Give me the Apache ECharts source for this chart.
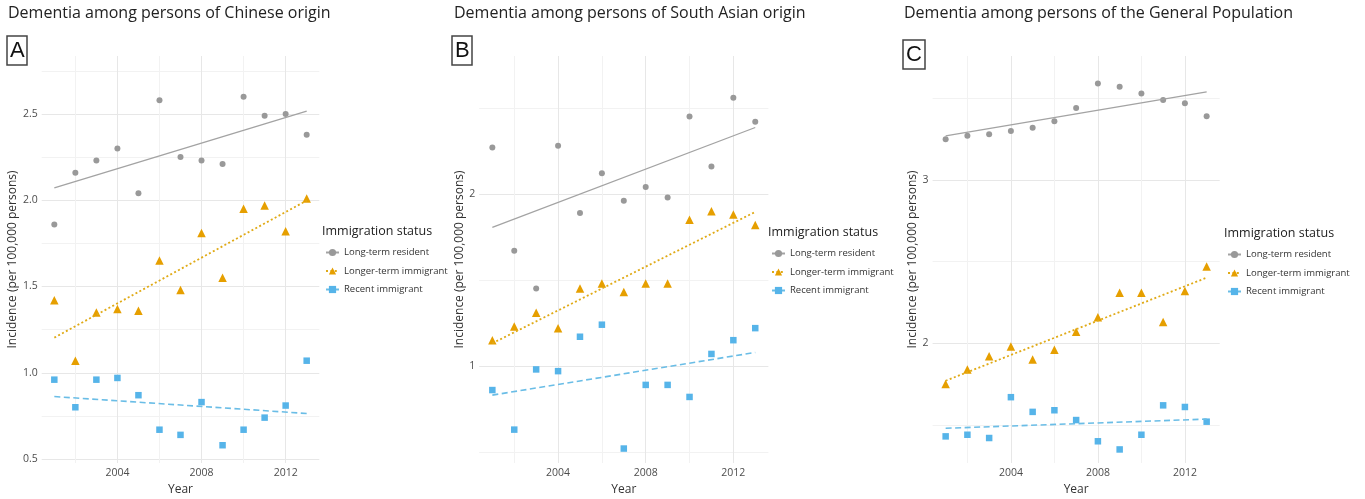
<!DOCTYPE html>
<html>
<head>
<meta charset="utf-8">
<title>Dementia incidence by immigration status</title>
<script src="https://cdn.jsdelivr.net/npm/echarts@6/dist/echarts.min.js"></script>
<style>
  html, body { margin: 0; padding: 0; background: #fff; }
  #chart { width: 1365px; height: 499px; }
</style>
</head>
<body>
<div id="chart"></div>
<script>
const years = [2001, 2002, 2003, 2004, 2005, 2006, 2007, 2008, 2009, 2010, 2011, 2012, 2013];
const seriesNames = ["Long-term resident", "Longer-term immigrant", "Recent immigrant"];
const legendTitle = "Immigration status";
const xAxisTitle = "Year";
const yAxisTitle = "Incidence (per 100,000 persons)";

// A: Chinese origin
const chineseResident = [1.86, 2.16, 2.23, 2.30, 2.04, 2.58, 2.25, 2.23, 2.21, 2.60, 2.49, 2.50, 2.38];
const chineseLonger = [1.42, 1.07, 1.35, 1.37, 1.36, 1.65, 1.48, 1.81, 1.55, 1.95, 1.97, 1.82, 2.01];
const chineseRecent = [0.96, 0.80, 0.96, 0.97, 0.87, 0.67, 0.64, 0.83, 0.58, 0.67, 0.74, 0.81, 1.07];

// B: South Asian origin
const southAsianResident = [2.27, 1.67, 1.45, 2.28, 1.89, 2.12, 1.96, 2.04, 1.98, 2.45, 2.16, 2.56, 2.42];
const southAsianLonger = [1.15, 1.23, 1.31, 1.22, 1.45, 1.48, 1.43, 1.48, 1.48, 1.85, 1.90, 1.88, 1.82];
const southAsianRecent = [0.86, 0.63, 0.98, 0.97, 1.17, 1.24, 0.52, 0.89, 0.89, 0.82, 1.07, 1.15, 1.22];

// C: general population
const generalResident = [3.25, 3.27, 3.28, 3.30, 3.32, 3.36, 3.44, 3.59, 3.57, 3.53, 3.49, 3.47, 3.39];
const generalLonger = [1.75, 1.84, 1.92, 1.98, 1.90, 1.96, 2.07, 2.16, 2.31, 2.31, 2.13, 2.32, 2.47];
const generalRecent = [1.43, 1.44, 1.42, 1.67, 1.58, 1.59, 1.53, 1.40, 1.35, 1.44, 1.62, 1.61, 1.52];

const panelTitles = [
  "Dementia among persons of Chinese origin",
  "Dementia among persons of South Asian origin",
  "Dementia among persons of the General Population",
];
const panelLetters = ["A", "B", "C"];

const FONT = "'Open Sans', 'Liberation Sans', sans-serif";

const groupStyles = [
  {color: "#999999", lineColor: "#a3a3a3", symbol: "circle", size: 6, dash: "solid", width: 1.3},
  {color: "#E69F00", lineColor: "#E0AA16", symbol: "triangle", size: 8.5, dash: [2, 2.4], width: 1.8},
  {color: "#56B4E9", lineColor: "#6ABDE6", symbol: "rect", size: 6.5, dash: [6, 3.5], width: 1.6},
];

// layout of each panel
const panels = [
  {data: [chineseResident, chineseLonger, chineseRecent], left: 41.7, width: 277.6,
    yMin: 0.477, yMax: 2.836, yStep: 0.5, digits: 1, nameGap: 23,
    titleLeft: 8, letterLeft: 7, letterTop: 36, legendLeft: 322, legendTop: 0},
  {data: [southAsianResident, southAsianLonger, southAsianRecent], left: 479.2, width: 289.2,
    yMin: 0.436, yMax: 2.802, yStep: 1, digits: 0, nameGap: 13,
    titleLeft: 454, letterLeft: 452, letterTop: 36, legendLeft: 768, legendTop: 1},
  {data: [generalResident, generalLonger, generalRecent], left: 932.6, width: 287.1,
    yMin: 1.267, yMax: 3.759, yStep: 1, digits: 0, nameGap: 13,
    titleLeft: 904, letterLeft: 903, letterTop: 40, legendLeft: 1224, legendTop: 2},
];

function fitLine(xs, ys) {
  const n = xs.length;
  const mx = xs.reduce((a, b) => a + b, 0) / n;
  const my = ys.reduce((a, b) => a + b, 0) / n;
  let sxy = 0;
  let sxx = 0;
  for (let i = 0; i < n; i++) {
    sxy += (xs[i] - mx) * (ys[i] - my);
    sxx += (xs[i] - mx) * (xs[i] - mx);
  }
  const slope = sxy / sxx;
  const x0 = xs[0];
  const x1 = xs[n - 1];
  return [[x0, my + slope * (x0 - mx)], [x1, my + slope * (x1 - mx)]];
}

function onStep(v, step) {
  return Math.abs(v / step - Math.round(v / step)) < 1e-6;
}

const grids = [];
const xAxes = [];
const yAxes = [];
const series = [];
const legends = [];
const titles = [];

panels.forEach((p, i) => {
  grids.push({left: p.left, top: 56, width: p.width, height: 407, outerBoundsMode: "none"});

  xAxes.push({
    type: "value", gridIndex: i, min: 2000.4, max: 2013.6, minInterval: 4, maxInterval: 4,
    axisLine: {show: false}, axisTick: {show: false},
    axisLabel: {
      formatter: (v) => onStep(v, 4) ? String(v) : "",
      color: "#4d4d4d", fontSize: 10.5, fontFamily: FONT, margin: 5,
    },
    splitLine: {show: true, showMinLine: false, showMaxLine: false, lineStyle: {color: "#e7e7e7", width: 1}},
    minorTick: {show: false, splitNumber: 2},
    minorSplitLine: {show: true, lineStyle: {color: "#f2f2f2", width: 1}},
    name: xAxisTitle, nameLocation: "middle", nameGap: 19,
    nameTextStyle: {fontSize: 12, color: "#333", fontFamily: FONT},
  });

  yAxes.push({
    type: "value", gridIndex: i, min: p.yMin, max: p.yMax, minInterval: p.yStep, maxInterval: p.yStep,
    axisLine: {show: false}, axisTick: {show: false},
    axisLabel: {
      formatter: (v) => onStep(v, p.yStep) ? v.toFixed(p.digits) : "",
      color: "#4d4d4d", fontSize: 10.5, fontFamily: FONT, margin: 4,
    },
    splitLine: {show: true, showMinLine: false, showMaxLine: false, lineStyle: {color: "#e7e7e7", width: 1}},
    minorTick: {show: false, splitNumber: 2},
    minorSplitLine: {show: true, lineStyle: {color: "#f2f2f2", width: 1}},
    name: yAxisTitle, nameLocation: "middle", nameGap: p.nameGap,
    nameTextStyle: {fontSize: 12, color: "#333", fontFamily: FONT},
  });

  // trend lines first so the legend takes their line + symbol icon
  p.data.forEach((vals, g) => {
    const st = groupStyles[g];
    series.push({
      type: "line", name: seriesNames[g], xAxisIndex: i, yAxisIndex: i,
      data: fitLine(years, vals),
      symbol: st.symbol, showSymbol: false, silent: true, z: 3,
      lineStyle: {color: st.lineColor, width: st.width, type: st.dash},
      itemStyle: {color: st.color},
    });
  });
  p.data.forEach((vals, g) => {
    const st = groupStyles[g];
    series.push({
      type: "scatter", name: seriesNames[g], xAxisIndex: i, yAxisIndex: i,
      data: years.map((y, k) => [y, vals[k]]),
      symbol: st.symbol, symbolSize: st.size, z: 2,
      itemStyle: {color: st.color, opacity: 1},
    });
  });

  legends.push({
    orient: "vertical", left: p.legendLeft + 3, top: 247.5 + p.legendTop,
    itemWidth: 13, itemHeight: 9, itemGap: 8.5, padding: 0, selectedMode: false,
    data: seriesNames,
    textStyle: {fontSize: 9.5, color: "#333", fontFamily: FONT},
  });

  titles.push({
    text: panelTitles[i], left: p.titleLeft, top: 5, padding: 0,
    textStyle: {fontSize: 16, fontWeight: "normal", color: "#222", fontFamily: FONT},
  });
  titles.push({
    text: panelLetters[i], left: p.letterLeft, top: p.letterTop, padding: [3, 3, 2, 3],
    borderWidth: 1.5, borderColor: "#444",
    textStyle: {fontSize: 22, fontWeight: "normal", color: "#111", fontFamily: "'Liberation Sans', sans-serif", lineHeight: 24},
  });
  titles.push({
    text: legendTitle, left: p.legendLeft, top: 225 + p.legendTop, padding: 0,
    textStyle: {fontSize: 12.5, fontWeight: "normal", color: "#222", fontFamily: FONT},
  });
});

const chart = echarts.init(document.getElementById("chart"), null, {renderer: "canvas"});
chart.setOption({
  animation: false,
  backgroundColor: "#ffffff",
  title: titles,
  grid: grids,
  xAxis: xAxes,
  yAxis: yAxes,
  legend: legends,
  series: series,
});
</script>
</body>
</html>
